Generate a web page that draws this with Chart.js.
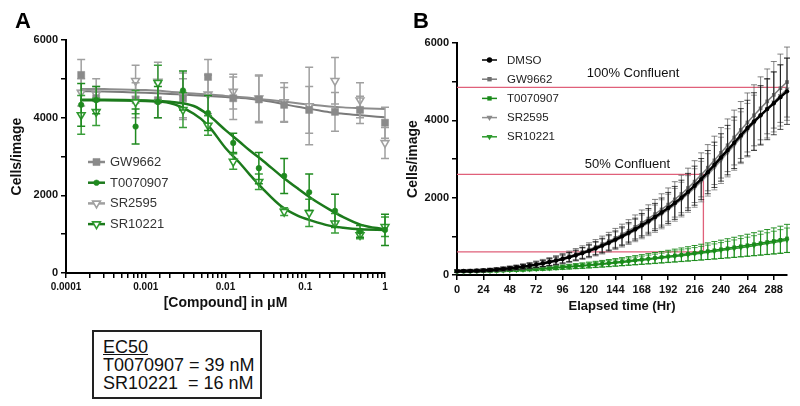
<!DOCTYPE html>
<html>
<head>
<meta charset="utf-8">
<script src="https://cdn.jsdelivr.net/npm/chart.js@4.4.1/dist/chart.umd.min.js"></script>
<style>
html,body{margin:0;padding:0;background:#fff;width:800px;height:406px;overflow:hidden;font-family:"Liberation Sans",Arial,sans-serif}
#wrapA{position:absolute;left:0;top:0;width:400px;height:312px}
#wrapB{position:absolute;left:400px;top:0;width:400px;height:320px}
#ec50{position:absolute;left:92px;top:330px;width:170px;height:69px;box-sizing:border-box;border:2px solid #222;padding:6px 0 0 9px;font:18px "Liberation Sans",Arial,sans-serif;line-height:18px;color:#111;white-space:pre}
</style>
</head>
<body>
<div id="wrapA"><canvas id="chartA" width="400" height="312" style="width:400px;height:312px"></canvas></div>
<div id="wrapB"><canvas id="chartB" width="400" height="320" style="width:400px;height:320px"></canvas></div>
<div id="ec50"><div><u>EC50</u></div><div>T0070907 = 39 nM</div><div>SR10221  = 16 nM</div></div>
<script>
// ---------------- Panel A data (concentration-response) ----------------
const concA = [0.000155, 0.000239, 0.000746, 0.00142, 0.00293, 0.00604, 0.0125, 0.0262, 0.0544, 0.112, 0.236, 0.486, 1];
const gw9662A    = [5100, 4500, 4450, 4450, 4500, 5050, 4500, 4470, 4330, 4200, 4150, 4200, 3870];
const gw9662AErr = [400, 300, 450, 450, 500, 450, 550, 600, 450, 600, 500, 350, 400];
const sr2595A    = [4650, 4600, 4950, 4930, 4550, 4600, 4670, 4500, 4400, 4300, 4950, 4450, 3350];
const sr2595AErr = [350, 400, 400, 500, 600, 500, 450, 600, 500, 1000, 600, 450, 400];
const t0070907A    = [4330, 4450, 3770, 4400, 4700, 4120, 3350, 2700, 2500, 2080, 1600, 1070, 1110];
const t0070907AErr = [550, 350, 450, 400, 500, 450, 250, 400, 450, 470, 430, 150, 400];
const sr10221A    = [4070, 4150, 4400, 4900, 4200, 3800, 2870, 2350, 1580, 1550, 1280, 980, 1190];
const sr10221AErr = [500, 350, 300, 450, 450, 250, 200, 200, 100, 350, 250, 100, 250];
// fitted curves
const fitX = [0.00015, 0.0003, 0.001, 0.002, 0.004, 0.006, 0.01, 0.015, 0.02, 0.03, 0.05, 0.08, 0.12, 0.2, 0.3, 0.5, 1];
const fitT0070907 = [4460, 4460, 4440, 4410, 4300, 4080, 3680, 3380, 3160, 2880, 2500, 2180, 1920, 1640, 1440, 1240, 1125];
const fitSR10221  = [4450, 4450, 4430, 4380, 4100, 3810, 3220, 2840, 2540, 2150, 1720, 1480, 1350, 1220, 1165, 1125, 1110];
const fitSR2595   = [4740, 4735, 4710, 4670, 4620, 4600, 4560, 4530, 4510, 4470, 4420, 4370, 4330, 4290, 4265, 4245, 4220];
const fitGW9662   = [4680, 4675, 4640, 4610, 4580, 4560, 4530, 4510, 4490, 4440, 4360, 4280, 4220, 4140, 4100, 4060, 4010];
const yTicksA = [0, 2000, 4000, 6000];

// ---------------- Panel B data (growth over time) ----------------
const hoursB = [0,6,12,18,24,30,36,42,48,54,60,66,72,78,84,90,96,102,108,114,120,126,132,138,144,150,156,162,168,174,180,186,192,198,204,210,216,222,228,234,240,246,252,258,264,270,276,282,288,294,300];
const hourTicks = [0,24,48,72,96,120,144,168,192,216,240,264,288];
const dmsoB = [100,102,105,110,118,128,140,155,172,192,215,240,268,300,335,372,415,462,512,567,625,690,760,835,915,1000,1090,1185,1285,1390,1500,1615,1735,1865,2000,2150,2310,2480,2660,2850,3040,3230,3420,3610,3800,3970,4130,4290,4440,4600,4750];
const dmsoBErr = [30,31,32,33,35,37,40,44,48,53,58,64,71,79,88,97,108,119,131,144,158,173,189,206,224,243,263,284,306,329,352,376,401,426,452,478,505,532,559,586,613,640,667,693,719,744,768,791,813,834,855];
const gw9662B = [105,107,110,116,124,134,147,162,180,200,224,250,280,313,350,390,435,485,538,595,657,725,798,877,960,1050,1145,1245,1350,1460,1575,1695,1820,1955,2095,2250,2415,2590,2775,2965,3160,3355,3555,3750,3945,4130,4310,4490,4660,4830,4990];
const gw9662BErr = [35,36,37,39,41,44,47,51,56,61,67,74,82,91,100,110,121,133,146,160,175,191,208,226,245,265,286,308,331,355,380,405,431,458,485,513,541,569,597,625,653,681,709,736,763,789,814,838,861,883,905];
const sr2595B = [95,97,101,106,113,122,134,148,165,184,206,230,257,288,322,358,400,446,495,548,605,668,735,808,885,968,1055,1148,1245,1348,1456,1570,1690,1815,1950,2095,2250,2415,2590,2775,2965,3160,3355,3550,3745,3935,4120,4300,4475,4645,4810];
const sr2595BErr = [32,33,34,36,38,40,43,47,51,56,62,68,75,83,92,101,111,122,134,147,161,176,192,209,227,246,266,287,308,330,353,376,400,424,449,474,499,524,549,574,599,623,647,670,693,715,736,756,775,793,810];
const t0070907B = [90,92,94,97,100,105,111,118,125,133,141,150,160,171,182,194,206,219,232,246,261,277,294,311,329,347,366,385,404,423,443,463,484,505,526,548,570,593,616,640,665,690,716,742,769,796,824,852,880,910,945];
const t0070907BErr = [20,20,21,22,23,24,26,28,30,32,34,37,40,43,46,50,54,58,62,67,72,77,83,89,95,101,108,115,122,130,138,146,155,164,173,183,193,203,214,225,236,248,260,272,285,298,311,324,338,352,365];
const sr10221B = [85,87,89,92,95,99,104,110,117,124,132,140,149,159,170,181,193,205,218,231,245,260,276,292,309,326,344,362,380,399,418,437,457,477,498,519,541,563,586,609,633,657,682,707,733,759,786,813,841,870,900];
const sr10221BErr = [18,18,19,20,21,22,23,25,27,29,31,33,36,39,42,45,48,52,56,60,64,69,74,79,84,90,96,102,108,115,122,129,136,144,152,160,168,177,186,195,205,215,225,235,246,257,268,279,291,303,315];
// confluence reference levels
const confluent100 = 4850;
const confluent50 = 2600;
const confluentLow = 600;
const time50 = 224;

// ---------------- helpers ----------------
const FONT = '"Liberation Sans", Arial, sans-serif';
const GREEN = '#1f8a1f';
const GREEN_LINE = '#1c7a1c';
const GRAY = '#8a8a8a';
const GRAY_LIGHT = '#a0a0a0';
const toXY = (xs, ys) => xs.map((x, i) => ({x: x, y: ys[i]}));

function drawMarker(ctx, style, rot, r, x, y, fill, stroke, lw) {
  ctx.save();
  ctx.beginPath();
  if (style === 'circle') {
    ctx.arc(x, y, r, 0, Math.PI * 2);
  } else if (style === 'rect') {
    const s = r * Math.SQRT1_2;
    ctx.rect(x - s, y - s, 2 * s, 2 * s);
  } else if (style === 'triangle') {
    let a = rot * Math.PI / 180;
    for (let k = 0; k < 3; k++) {
      const px = x + Math.sin(a) * r, py = y - Math.cos(a) * r;
      if (k === 0) ctx.moveTo(px, py); else ctx.lineTo(px, py);
      a += 2 * Math.PI / 3;
    }
    ctx.closePath();
  }
  ctx.fillStyle = fill; ctx.fill();
  if (lw > 0) { ctx.strokeStyle = stroke; ctx.lineWidth = lw; ctx.stroke(); }
  ctx.restore();
}

const errorBarPlugin = {
  id: 'errorBars',
  beforeDatasetDraw(chart, args) {
    const ds = chart.data.datasets[args.index];
    if (!ds.errorBars) return;
    const xs = chart.scales.x, ys = chart.scales.y, ctx = chart.ctx;
    const c = ds.errorCap || 3;
    ctx.save();
    ctx.strokeStyle = ds.errorColor;
    ctx.lineWidth = ds.errorWidth || 1;
    ds.data.forEach((p, i) => {
      const e = ds.errorBars[i];
      if (e == null) return;
      const px = xs.getPixelForValue(p.x);
      const y1 = ys.getPixelForValue(p.y + e);
      const y2 = ys.getPixelForValue(Math.max(p.y - e, 0));
      ctx.beginPath();
      ctx.moveTo(px, y1); ctx.lineTo(px, y2);
      ctx.moveTo(px - c, y1); ctx.lineTo(px + c, y1);
      ctx.moveTo(px - c, y2); ctx.lineTo(px + c, y2);
      ctx.stroke();
    });
    ctx.restore();
  }
};

const decorPlugin = {
  id: 'decor',
  afterDraw(chart, args, opts) {
    const ctx = chart.ctx;
    ctx.save();
    // panel letter
    ctx.fillStyle = '#000';
    ctx.font = 'bold 22px ' + FONT;
    ctx.textBaseline = 'alphabetic';
    ctx.fillText(opts.letter, opts.letterX, opts.letterY);
    // legend
    const lg = opts.legend;
    const items = chart.data.datasets.filter(d => d.legendRank !== undefined).sort((a, b) => a.legendRank - b.legendRank);
    ctx.font = lg.fontSize + 'px ' + FONT;
    ctx.textBaseline = 'middle';
    items.forEach((d, i) => {
      const y = lg.y + i * lg.dy;
      ctx.strokeStyle = d.legendColor;
      ctx.lineWidth = lg.lineWidth;
      ctx.beginPath(); ctx.moveTo(lg.x, y); ctx.lineTo(lg.x + lg.len, y); ctx.stroke();
      drawMarker(ctx, d.pointStyle, d.pointRotation || 0, d.legendRadius || d.pointRadius, lg.x + lg.len / 2, y, d.pointBackgroundColor, d.pointBorderColor, d.pointBorderWidth);
      ctx.fillStyle = lg.color;
      ctx.fillText(d.label, lg.x + lg.len + lg.gap, y + 0.5);
    });
    // annotations in data coordinates
    (opts.notes || []).forEach(n => {
      ctx.font = n.size + 'px ' + FONT;
      ctx.fillStyle = '#111';
      ctx.textAlign = 'center';
      ctx.fillText(n.text, chart.scales.x.getPixelForValue(n.x), chart.scales.y.getPixelForValue(n.y));
    });
    ctx.restore();
  }
};

function axisCommon(titleText, titleSize, titlePad, tickSize) {
  return {
    grid: {display: true, drawOnChartArea: false, drawTicks: true, tickLength: 5, color: '#000', lineWidth: 1.5},
    border: {display: true, color: '#000', width: 2},
    ticks: {color: '#111', font: {family: FONT, size: tickSize, weight: 'bold'}, autoSkip: false, maxRotation: 0, padding: 3},
    title: {display: true, text: titleText, color: '#111', font: {family: FONT, size: titleSize, weight: 'bold'}, padding: titlePad}
  };
}

// ---------------- Chart A ----------------
(function () {
  const xA = axisCommon('[Compound] in \u03bcM', 14, {top: 4, bottom: 0}, 10);
  Object.assign(xA, {
    type: 'logarithmic', min: 0.0001, max: 1, position: 'bottom',
    afterFit: s => { s.height = 39; }
  });
  xA.ticks.callback = function (v) {
    const l = Math.log10(v);
    return Math.abs(l - Math.round(l)) < 1e-9 ? String(v) : '';
  };
  const yA = axisCommon('Cells/image', 14, {top: 9, bottom: 4}, 11);
  Object.assign(yA, {
    type: 'linear', min: 0, max: 6000, position: 'left',
    afterFit: s => { s.width = 66; }
  });
  yA.ticks.stepSize = 1000;
  yA.ticks.callback = v => (yTicksA.includes(v) ? String(v) : '');

  const pts = (label, xs, ys, errs, style, rot, r, fill, stroke, bw, errColor, rank, lcolor) => ({
    label: label, type: 'scatter', data: toXY(xs, ys), showLine: false,
    pointStyle: style, pointRotation: rot, pointRadius: r,
    pointBackgroundColor: fill, pointBorderColor: stroke, pointBorderWidth: bw,
    backgroundColor: fill, borderColor: stroke,
    errorBars: errs, errorColor: errColor, errorWidth: 1.5, errorCap: 4,
    legendRank: rank, legendColor: lcolor, clip: false
  });
  const fit = (label, ys, color, w) => ({
    label: label, type: 'scatter', data: toXY(fitX, ys), showLine: true,
    borderColor: color, borderWidth: w, pointRadius: 0, cubicInterpolationMode: 'monotone', fill: false
  });

  new Chart(document.getElementById('chartA'), {
    type: 'scatter',
    data: {
      datasets: [
        pts('T0070907', concA, t0070907A, t0070907AErr, 'circle', 0, 2.8, GREEN, GREEN, 0.5, GREEN, 1, GREEN_LINE),
        pts('SR10221', concA, sr10221A, sr10221AErr, 'triangle', 180, 4.5, '#ffffff', '#2f9a2f', 1.6, '#3a9e3a', 3, GREEN_LINE),
        fit('fit T0070907', fitT0070907, GREEN_LINE, 2.5),
        fit('fit SR10221', fitSR10221, GREEN_LINE, 2.5),
        pts('GW9662', concA, gw9662A, gw9662AErr, 'rect', 0, 5, GRAY, GRAY, 0.5, GRAY_LIGHT, 0, GRAY),
        pts('SR2595', concA, sr2595A, sr2595AErr, 'triangle', 180, 4.5, '#ffffff', GRAY_LIGHT, 1.6, GRAY_LIGHT, 2, GRAY_LIGHT),
        fit('fit SR2595', fitSR2595, '#8c8c8c', 2),
        fit('fit GW9662', fitGW9662, '#7a7a7a', 2)
      ]
    },
    options: {
      responsive: false, animation: false, devicePixelRatio: 1,
      layout: {padding: {left: 0, top: 40, right: 15, bottom: 0}},
      plugins: {
        legend: {display: false}, tooltip: {enabled: false},
        decor: {
          letter: 'A', letterX: 15, letterY: 28,
          legend: {x: 88, y: 162, dy: 20.7, len: 17, gap: 5, lineWidth: 2.5, fontSize: 13, color: '#333'},
          notes: []
        }
      },
      scales: {x: xA, y: yA}
    },
    plugins: [errorBarPlugin, decorPlugin]
  });
})();

// ---------------- Chart B ----------------
(function () {
  const xB = axisCommon('Elapsed time (Hr)', 13, {top: 4, bottom: 6}, 11);
  Object.assign(xB, {
    type: 'linear', min: 0, max: 300, position: 'bottom',
    afterBuildTicks: s => { s.ticks = hourTicks.map(v => ({value: v})); },
    afterFit: s => { s.height = 45; }
  });
  xB.ticks.callback = v => String(v);
  const yB = axisCommon('Cells/image', 14, {top: 5, bottom: 4}, 11);
  Object.assign(yB, {
    type: 'linear', min: 0, max: 6000, position: 'left',
    afterFit: s => { s.width = 57; }
  });
  yB.ticks.stepSize = 1000;
  yB.ticks.callback = v => (v % 2000 === 0 ? String(v) : '');

  const series = (label, ys, errs, style, rot, r, fill, lineColor, lw, errColor, rank) => ({
    label: label, type: 'scatter', data: toXY(hoursB, ys), showLine: true,
    borderColor: lineColor, borderWidth: lw, pointStyle: style, pointRotation: rot, pointRadius: r,
    pointBackgroundColor: fill, pointBorderColor: fill, pointBorderWidth: 0,
    errorBars: errs, errorColor: errColor, errorWidth: 1, errorCap: 3,
    legendRank: rank, legendColor: lineColor, legendRadius: r + 0.5, clip: false
  });

  new Chart(document.getElementById('chartB'), {
    type: 'scatter',
    data: {
      datasets: [
        series('DMSO', dmsoB, dmsoBErr, 'circle', 0, 2.2, '#000', '#000', 2.5, 'rgba(0,0,0,0.7)', 0),
        series('GW9662', gw9662B, gw9662BErr, 'rect', 0, 2.6, '#6f6f6f', '#7a7a7a', 1.5, 'rgba(80,80,80,0.7)', 1),
        series('SR2595', sr2595B, sr2595BErr, 'triangle', 180, 3, '#8a8a8a', '#8f8f8f', 1.5, 'rgba(110,110,110,0.7)', 3),
        series('T0070907', t0070907B, t0070907BErr, 'rect', 0, 2.6, '#1a8a1a', '#1a8a1a', 1.5, 'rgba(20,135,20,0.9)', 2),
        series('SR10221', sr10221B, sr10221BErr, 'triangle', 180, 3, '#2c9a2c', '#2c9a2c', 1.5, 'rgba(40,150,40,0.85)', 4),
        {label: '100% Confluent', type: 'scatter', showLine: true, pointRadius: 0, borderColor: '#e0607a', borderWidth: 1.3,
         data: [{x: 0, y: confluent100}, {x: 300, y: confluent100}]},
        {label: '50% Confluent', type: 'scatter', showLine: true, pointRadius: 0, borderColor: '#e0607a', borderWidth: 1.3,
         data: [{x: 0, y: confluent50}, {x: time50, y: confluent50}, {x: time50, y: confluentLow}, {x: 0, y: confluentLow}]}
      ]
    },
    options: {
      responsive: false, animation: false, devicePixelRatio: 1,
      layout: {padding: {left: 0, top: 43, right: 13, bottom: 0}},
      plugins: {
        legend: {display: false}, tooltip: {enabled: false},
        decor: {
          letter: 'B', letterX: 13, letterY: 28,
          legend: {x: 82, y: 60, dy: 19.2, len: 15, gap: 10, lineWidth: 1.5, fontSize: 11.5, color: '#222'},
          notes: [
            {text: '100% Confluent', x: 160, y: 5220, size: 13},
            {text: '50% Confluent', x: 155, y: 2870, size: 13}
          ]
        }
      },
      scales: {x: xB, y: yB}
    },
    plugins: [errorBarPlugin, decorPlugin]
  });
})();
</script>
</body>
</html>
